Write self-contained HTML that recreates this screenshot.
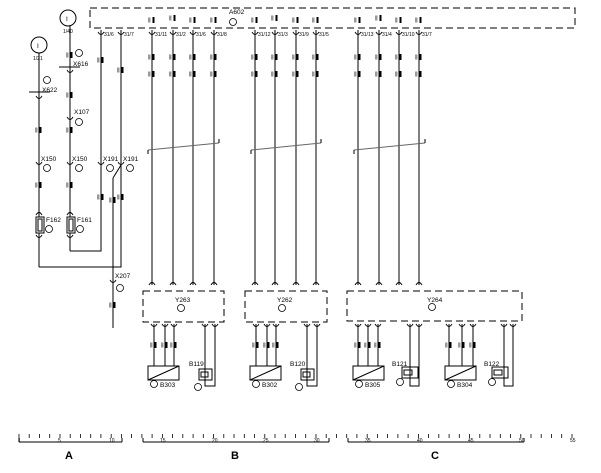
<!DOCTYPE html>
<html><head><meta charset="utf-8"><style>
html,body{margin:0;padding:0;background:#fff}
svg{display:block}
text{font-family:"Liberation Sans",sans-serif;fill:#000}
.s{font-size:5px}
.m{font-size:6.5px}
</style></head><body>
<svg width="601" height="473" viewBox="0 0 601 473" xmlns="http://www.w3.org/2000/svg">
<defs>
<path id="cu" d="M-3,0 Q0,5 3,0" fill="none" stroke="#000" stroke-width="0.9"/>
<path id="cn" d="M-3,0 Q0,-5 3,0" fill="none" stroke="#000" stroke-width="0.9"/>
<g id="lbl"><rect x="0.5" y="-3" width="2" height="6" fill="#000"/><rect x="-4" y="-2.5" width="2.5" height="5" fill="#999"/></g>
</defs>
<g stroke="#000" stroke-width="1" fill="none">
<path d="M90,8 H575 V28 H90 Z" stroke-dasharray="7,4"/>
<path d="M152,30V285 M173,30V285 M193,30V285 M214,30V285 M255,30V285 M275,30V285 M296,30V285 M316,30V285 M358,30V285 M379,30V285 M399,30V285 M419,30V285"/>
<path d="M101,30V251H70 M121,30V267H39 M113,178L121,165 M113,178V328"/>
<path d="M39,53V217 M39,233V267 M70,26V217 M70,233V251"/>
<path d="M29,92H50 M59,67H80"/>
<rect x="36" y="217" width="8" height="16"/><rect x="38" y="219" width="4" height="12"/>
<rect x="67" y="217" width="8" height="16"/><rect x="69" y="219" width="4" height="12"/>
<circle cx="39" cy="45" r="8"/><circle cx="68" cy="18" r="8"/>
<g stroke="#666"><path d="M148,150L219,143 M251,150L321,143 M354,150L425,143"/></g>
<path d="M148,150V154 M219,143V139 M251,150V154 M321,143V139 M354,150V154 M425,143V139"/>
<rect x="143" y="291" width="81" height="31" stroke-dasharray="7,4"/>
<rect x="245" y="291" width="82" height="31" stroke-dasharray="7,4"/>
<rect x="347" y="291" width="175" height="30" stroke-dasharray="7,4"/>
<path d="M154,324V366 M165,324V366 M174,324V366 M205,324V386H215V324"/>
<path d="M256,324V366 M267,324V366 M276,324V366 M307,324V386H317V324"/>
<path d="M358,324V366 M368,324V366 M378,324V366 M410,324V386H419V324"/>
<path d="M449,324V366 M462,324V366 M473,324V366 M504,324V386H513V324"/>
<path d="M148,366H179V380H148Z M148,380L179,366"/>
<path d="M250,366H281V380H250Z M250,380L281,366"/>
<path d="M353,366H384V380H353Z M353,380L384,366"/>
<path d="M445,366H476V380H445Z M445,380L476,366"/>
<rect x="199" y="369" width="13" height="11"/><rect x="201" y="372" width="7" height="5"/>
<rect x="301" y="369" width="13" height="11"/><rect x="303" y="372" width="7" height="5"/>
<rect x="402" y="367" width="16" height="11"/><rect x="404" y="370" width="8" height="5"/>
<rect x="492" y="367" width="16" height="11"/><rect x="494" y="370" width="8" height="5"/>
<g stroke-width="0.8">
<circle cx="154" cy="384" r="3.5"/><circle cx="198" cy="387" r="3.5"/>
<circle cx="256" cy="384" r="3.5"/><circle cx="299" cy="387" r="3.5"/>
<circle cx="359" cy="384" r="3.5"/><circle cx="400" cy="382" r="3.5"/>
<circle cx="451" cy="384" r="3.5"/><circle cx="492" cy="382" r="3.5"/>
<circle cx="181" cy="308" r="3.5"/><circle cx="282" cy="308" r="3.5"/><circle cx="432" cy="307" r="3.5"/>
<circle cx="233" cy="22" r="3.5"/>
<circle cx="47" cy="80" r="3.5"/><circle cx="79" cy="53" r="3.5"/><circle cx="79" cy="122" r="3.5"/>
<circle cx="47" cy="168" r="3.5"/><circle cx="79" cy="168" r="3.5"/><circle cx="110" cy="168" r="3.5"/><circle cx="130" cy="168" r="3.5"/>
<circle cx="49" cy="229" r="3.5"/><circle cx="80" cy="229" r="3.5"/><circle cx="120" cy="288" r="3.5"/>
</g>
<path d="M19,442H122 M19,442V438 M122,442V438 M143,442H329 M143,442V438 M329,442V438 M348,442H524 M348,442V438 M524,442V438"/>
</g>
<g>
<use href="#cu" x="152" y="32"/><use href="#cu" x="173" y="32"/><use href="#cu" x="193" y="32"/><use href="#cu" x="214" y="32"/>
<use href="#cu" x="255" y="32"/><use href="#cu" x="275" y="32"/><use href="#cu" x="296" y="32"/><use href="#cu" x="316" y="32"/>
<use href="#cu" x="358" y="32"/><use href="#cu" x="379" y="32"/><use href="#cu" x="399" y="32"/><use href="#cu" x="419" y="32"/>
<use href="#cu" x="101" y="32"/><use href="#cu" x="121" y="32"/>
<use href="#cu" x="39" y="96"/><use href="#cu" x="70" y="70"/><use href="#cu" x="70" y="117"/>
<use href="#cu" x="39" y="162"/><use href="#cu" x="70" y="162"/><use href="#cu" x="101" y="162"/><use href="#cu" x="121" y="162"/>
<use href="#cn" x="39" y="215"/><use href="#cn" x="70" y="215"/><use href="#cu" x="39" y="235"/><use href="#cu" x="70" y="235"/>
<use href="#cu" x="113" y="280"/>
<use href="#cn" x="152" y="285"/><use href="#cn" x="173" y="285"/><use href="#cn" x="193" y="285"/><use href="#cn" x="214" y="285"/>
<use href="#cn" x="255" y="285"/><use href="#cn" x="275" y="285"/><use href="#cn" x="296" y="285"/><use href="#cn" x="316" y="285"/>
<use href="#cn" x="358" y="285"/><use href="#cn" x="379" y="285"/><use href="#cn" x="399" y="285"/><use href="#cn" x="419" y="285"/>
<use href="#cu" x="154" y="324"/><use href="#cu" x="165" y="324"/><use href="#cu" x="174" y="324"/><use href="#cu" x="205" y="324"/><use href="#cu" x="215" y="324"/>
<use href="#cu" x="256" y="324"/><use href="#cu" x="267" y="324"/><use href="#cu" x="276" y="324"/><use href="#cu" x="307" y="324"/><use href="#cu" x="317" y="324"/>
<use href="#cu" x="358" y="324"/><use href="#cu" x="368" y="324"/><use href="#cu" x="378" y="324"/><use href="#cu" x="410" y="324"/><use href="#cu" x="419" y="324"/>
<use href="#cu" x="449" y="324"/><use href="#cu" x="462" y="324"/><use href="#cu" x="473" y="324"/><use href="#cu" x="504" y="324"/><use href="#cu" x="513" y="324"/>
</g>
<g>
<use href="#lbl" x="152" y="57"/><use href="#lbl" x="173" y="57"/><use href="#lbl" x="193" y="57"/><use href="#lbl" x="214" y="57"/>
<use href="#lbl" x="255" y="57"/><use href="#lbl" x="275" y="57"/><use href="#lbl" x="296" y="57"/><use href="#lbl" x="316" y="57"/>
<use href="#lbl" x="358" y="57"/><use href="#lbl" x="379" y="57"/><use href="#lbl" x="399" y="57"/><use href="#lbl" x="419" y="57"/>
<use href="#lbl" x="152" y="74"/><use href="#lbl" x="173" y="74"/><use href="#lbl" x="193" y="74"/><use href="#lbl" x="214" y="74"/>
<use href="#lbl" x="255" y="74"/><use href="#lbl" x="275" y="74"/><use href="#lbl" x="296" y="74"/><use href="#lbl" x="316" y="74"/>
<use href="#lbl" x="358" y="74"/><use href="#lbl" x="379" y="74"/><use href="#lbl" x="399" y="74"/><use href="#lbl" x="419" y="74"/>
<use href="#lbl" x="101" y="60"/><use href="#lbl" x="121" y="70"/><use href="#lbl" x="70" y="55"/><use href="#lbl" x="70" y="95"/>
<use href="#lbl" x="39" y="130"/><use href="#lbl" x="70" y="130"/><use href="#lbl" x="39" y="185"/><use href="#lbl" x="70" y="185"/>
<use href="#lbl" x="101" y="197"/><use href="#lbl" x="113" y="200"/><use href="#lbl" x="121" y="197"/><use href="#lbl" x="113" y="305"/>
<use href="#lbl" x="154" y="345"/><use href="#lbl" x="165" y="345"/><use href="#lbl" x="174" y="345"/>
<use href="#lbl" x="256" y="345"/><use href="#lbl" x="267" y="345"/><use href="#lbl" x="276" y="345"/>
<use href="#lbl" x="358" y="345"/><use href="#lbl" x="368" y="345"/><use href="#lbl" x="378" y="345"/>
<use href="#lbl" x="449" y="345"/><use href="#lbl" x="462" y="345"/><use href="#lbl" x="473" y="345"/>
<use href="#lbl" x="152" y="20"/><use href="#lbl" x="173" y="18"/><use href="#lbl" x="193" y="20"/><use href="#lbl" x="214" y="20"/>
<use href="#lbl" x="255" y="20"/><use href="#lbl" x="275" y="18"/><use href="#lbl" x="296" y="20"/><use href="#lbl" x="316" y="20"/>
<use href="#lbl" x="358" y="20"/><use href="#lbl" x="379" y="18"/><use href="#lbl" x="399" y="20"/><use href="#lbl" x="419" y="20"/>
</g>
<text class="m" x="37" y="48">I</text><text class="m" x="66" y="21">I</text>
<text class="s" x="33" y="60">1/21</text><text class="s" x="63" y="33">1/40</text>
<text class="m" x="42" y="92">X622</text><text class="m" x="73" y="66">X616</text><text class="m" x="74" y="114">X107</text>
<text class="m" x="41" y="161">X150</text><text class="m" x="72" y="161">X150</text><text class="m" x="103" y="161">X191</text><text class="m" x="123" y="161">X191</text>
<text class="m" x="46" y="222">F162</text><text class="m" x="77" y="222">F161</text><text class="m" x="115" y="278">X207</text>
<text class="m" x="229" y="14">A602</text>
<text class="s" x="104" y="36">31/6</text><text class="s" x="124" y="36">31/7</text>
<text class="s" x="155" y="36">31/11</text><text class="s" x="176" y="36">31/2</text><text class="s" x="196" y="36">31/6</text><text class="s" x="217" y="36">31/8</text>
<text class="s" x="258" y="36">31/12</text><text class="s" x="278" y="36">31/3</text><text class="s" x="299" y="36">31/9</text><text class="s" x="319" y="36">31/5</text>
<text class="s" x="361" y="36">31/13</text><text class="s" x="382" y="36">31/4</text><text class="s" x="402" y="36">31/10</text><text class="s" x="422" y="36">31/7</text>
<text class="m" x="175" y="302">Y263</text><text class="m" x="277" y="302">Y262</text><text class="m" x="427" y="302">Y264</text>
<text class="m" x="189" y="366">B119</text><text class="m" x="290" y="366">B120</text><text class="m" x="392" y="366">B121</text><text class="m" x="484" y="366">B122</text>
<text class="m" x="160" y="387">B303</text><text class="m" x="262" y="387">B302</text><text class="m" x="365" y="387">B305</text><text class="m" x="457" y="387">B304</text>
<g stroke="#000" stroke-width="0.8">
<path d="M19,434V438 M29.2,434V438 M39.5,434V438 M49.7,434V438 M60,434V438 M70.2,434V438 M80.4,434V438 M90.7,434V438 M100.9,434V438 M111.2,434V438 M121.4,434V438 M131.6,434V438 M141.9,434V438 M152.1,434V438 M162.4,434V438 M172.6,434V438 M182.8,434V438 M193.1,434V438 M203.3,434V438 M213.6,434V438 M223.8,434V438 M234,434V438 M244.3,434V438 M254.5,434V438 M264.8,434V438 M275,434V438 M285.2,434V438 M295.5,434V438 M305.7,434V438 M316,434V438 M326.2,434V438 M336.4,434V438 M346.7,434V438 M356.9,434V438 M367.2,434V438 M377.4,434V438 M387.6,434V438 M397.9,434V438 M408.1,434V438 M418.4,434V438 M428.6,434V438 M438.8,434V438 M449.1,434V438 M459.3,434V438 M469.6,434V438 M479.8,434V438 M490,434V438 M500.3,434V438 M510.5,434V438 M520.8,434V438 M531,434V438 M541.2,434V438 M551.5,434V438 M561.7,434V438 M572,434V438"/>
</g>
<text class="s" x="18" y="442">1</text><text class="s" x="58" y="442">5</text><text class="s" x="109" y="442">10</text>
<text class="s" x="160" y="442">15</text><text class="s" x="212" y="442">20</text><text class="s" x="263" y="442">25</text><text class="s" x="314" y="442">30</text>
<text class="s" x="365" y="442">35</text><text class="s" x="417" y="442">40</text><text class="s" x="468" y="442">45</text><text class="s" x="519" y="442">50</text><text class="s" x="570" y="442">55</text>
<text x="65" y="459" style="font-size:11px;font-weight:bold">A</text>
<text x="231" y="459" style="font-size:11px;font-weight:bold">B</text>
<text x="431" y="459" style="font-size:11px;font-weight:bold">C</text>
</svg>
</body></html>
